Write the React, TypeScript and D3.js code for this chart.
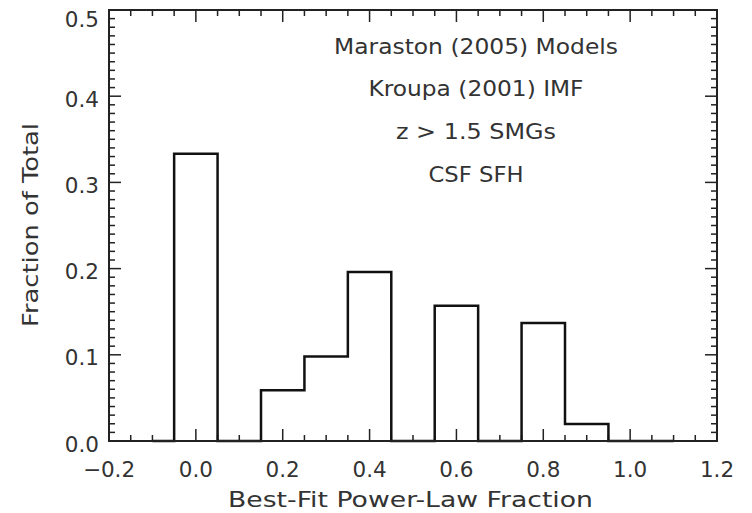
import React from "react";
import * as d3 from "d3";

const binCenters = [-0.1, 0.0, 0.1, 0.2, 0.3, 0.4, 0.5, 0.6, 0.7, 0.8, 0.9, 1.0, 1.1];
const fractions = [0, 0.3333, 0, 0.0588, 0.098, 0.196, 0, 0.157, 0, 0.137, 0.0196, 0, 0];
const xTickLabels = [-0.2, 0.0, 0.2, 0.4, 0.6, 0.8, 1.0, 1.2];
const yTickLabels = [0.0, 0.1, 0.2, 0.3, 0.4, 0.5];
const annotations = ["Maraston (2005) Models", "Kroupa (2001) IMF", "z > 1.5 SMGs", "CSF SFH"];
const annotationWidths = [284, 215, 160, 95];

const W = 752, H = 513;
const L = 109, R = 717, T = 10, B = 441;
const FONT = "'DejaVu Sans', 'Liberation Sans', sans-serif";
const INK = "#222";

export default function App() {
  const x = d3.scaleLinear().domain([-0.2, 1.2]).range([L, R]);
  const y = d3.scaleLinear().domain([0, 0.5]).range([B, T]);

  // IDL psym=10 style histogram step line
  const pts: [number, number][] = [];
  const half = 0.05;
  binCenters.forEach((c, i) => {
    const v = fractions[i];
    if (i === 0) pts.push([c, v]);
    else pts.push([c - half, v]);
    if (i === binCenters.length - 1) pts.push([c, v]);
    else pts.push([c + half, v]);
  });
  const line = d3.line<[number, number]>().x(d => x(d[0])).y(d => y(d[1])).curve(d3.curveLinear);

  const xMinor = d3.range(-0.2, 1.2001, 0.05).map(v => +v.toFixed(2));
  const yMinor = d3.range(0, 0.5001, 0.01).map(v => +v.toFixed(2));
  const isMajX = (v: number) => Math.abs(Math.round(v / 0.2) * 0.2 - v) < 1e-6;
  const isMajY = (v: number) => Math.abs(Math.round(v / 0.1) * 0.1 - v) < 1e-6;

  return (
    <svg width={W} height={H} style={{ position: "absolute", left: 0, top: 0, background: "#fff" }}>
      <rect x={0} y={0} width={W} height={H} fill="#fff" />
      {/* ticks */}
      <g stroke={INK} strokeWidth={1.5}>
        {xMinor.map((v, i) => {
          const len = isMajX(v) ? 12 : 6;
          return (
            <g key={"x" + i}>
              <line x1={x(v)} x2={x(v)} y1={B} y2={B - len} />
              <line x1={x(v)} x2={x(v)} y1={T} y2={T + len} />
            </g>
          );
        })}
        {yMinor.map((v, i) => {
          const len = isMajY(v) ? 12 : 6;
          return (
            <g key={"y" + i}>
              <line x1={L} x2={L + len} y1={y(v)} y2={y(v)} />
              <line x1={R} x2={R - len} y1={y(v)} y2={y(v)} />
            </g>
          );
        })}
      </g>
      {/* histogram */}
      <path d={line(pts) || ""} fill="none" stroke="#111" strokeWidth={2.5} strokeLinejoin="miter" />
      {/* frame */}
      <rect x={L} y={T} width={R - L} height={B - T} fill="none" stroke={INK} strokeWidth={2} />
      {/* tick labels */}
      <g fontFamily={FONT} fontSize={21.5} fill="#333">
        {xTickLabels.map((v, i) => (
          <text key={"xl" + i} x={x(v)} y={477} textAnchor="middle">
            {v < 0 ? "\u2212" + Math.abs(v).toFixed(1) : v.toFixed(1)}
          </text>
        ))}
        {yTickLabels.map((v, i) => (
          <text key={"yl" + i} x={99} y={i === yTickLabels.length - 1 ? y(v) + 17 : y(v) + 10.5} textAnchor="end">
            {v.toFixed(1)}
          </text>
        ))}
      </g>
      {/* axis titles */}
      <text x={410.5} y={507} textAnchor="middle" fontFamily={FONT} fontSize={21.5} fill="#333"
        textLength={365} lengthAdjust="spacingAndGlyphs">
        Best-Fit Power-Law Fraction
      </text>
      <text transform={`translate(38,225) rotate(-90)`} textAnchor="middle" fontFamily={FONT} fontSize={21.5} fill="#333"
        textLength={204} lengthAdjust="spacingAndGlyphs">
        Fraction of Total
      </text>
      {/* annotations */}
      <g fontFamily={FONT} fontSize={20.5} fill="#333">
        {annotations.map((s, i) => (
          <text key={"a" + i} x={476} y={53.5 + i * 42.9} textAnchor="middle"
            textLength={annotationWidths[i]} lengthAdjust="spacingAndGlyphs">{s}</text>
        ))}
      </g>
    </svg>
  );
}
